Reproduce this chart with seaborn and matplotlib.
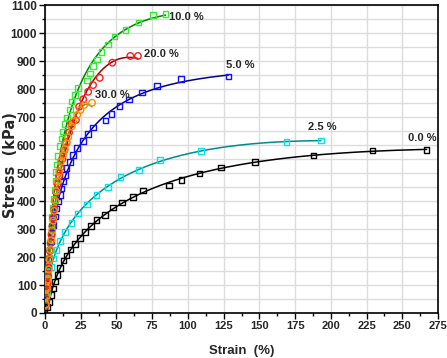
import numpy as np
import pandas as pd
import matplotlib

matplotlib.use("Agg")

import matplotlib.pyplot as plt
import seaborn as sns
from matplotlib.ticker import MultipleLocator

# strain (%) and stress (kPa), one pair per filler content
strain_00 = [1.6, 3.0, 4.6, 5.8, 7.0, 8.6, 10.4, 12.8, 15.1, 17.9, 20.9, 24.4, 27.9, 32.0,
             36.0, 41.8, 47.6, 53.8, 61.5, 68.5, 86.6, 95.6, 108, 123, 147, 188, 229, 267]
stress_00 = [22, 40, 64, 88, 112, 136, 160, 187, 206, 226, 246, 268, 289, 311,
             332, 351, 377, 394, 415, 437, 455, 475, 498, 519, 540, 562, 581, 583]

strain_25 = [1.2, 2.3, 4.0, 5.8, 8.1, 10.4, 13.9, 18.6, 23.2, 29.5, 36.0, 44.0, 52.7,
             65.7, 80.5, 109, 169, 193]
stress_25 = [70, 125, 165, 195, 225, 257, 289, 322, 356, 387, 421, 450, 485,
             511, 546, 579, 611, 616]

strain_50 = [0.5, 1.2, 1.6, 2.3, 3.0, 4.0, 4.6, 5.8, 7.0, 8.1, 9.3, 10.4, 11.6, 12.7, 13.9,
             15.1, 17.4, 19.7, 22.5, 26.7, 30.2, 33.6, 42.3, 46.4, 52.2, 58.7, 68.0, 78.5,
             95.2, 128.3]
stress_50 = [50, 106, 154, 189, 225, 255, 285, 314, 344, 374, 398, 421, 445, 469, 493,
             517, 540, 564, 590, 615, 639, 663, 687, 711, 739, 763, 788, 811, 835, 844]

strain_100 = [0.4, 0.8, 1.2, 1.6, 2.0, 2.4, 2.8, 3.2, 3.6, 4.0, 4.5, 5.0, 5.5, 6.0, 6.6,
              7.2, 7.8, 8.4, 9.2, 10.4, 11.6, 12.7, 13.9, 15.5, 17.4, 18.6, 20.9, 23.2,
              29.5, 31.3, 33.6, 36.4, 39.5, 44.1, 48.7, 56.4, 65.5, 75.4, 84.3]
stress_100 = [28, 56, 84, 112, 140, 168, 196, 224, 252, 280, 312, 344, 376, 408, 440,
              472, 504, 530, 560, 596, 624, 648, 675, 699, 727, 755, 779, 803,
              831, 856, 882, 906, 933, 959, 987, 1011, 1037, 1064, 1068]

strain_200 = [0.4, 0.8, 1.2, 1.6, 2.0, 2.5, 3.0, 3.5, 4.0, 4.6, 5.2, 5.8, 6.5, 7.2, 8.0,
              8.9, 9.9, 11.0, 12.2, 13.5, 15.0, 16.8, 18.6, 21.6, 23.9, 26.7, 30.2, 33.6,
              38.3, 47.1, 59.7, 65.0]
stress_200 = [25, 50, 78, 105, 132, 162, 192, 222, 250, 280, 310, 340, 370, 400, 430,
              460, 490, 520, 550, 580, 610, 645, 675, 689, 737, 763, 790, 814,
              840, 894, 918, 918]

strain_300 = [0.5, 1.0, 1.5, 2.0, 2.6, 3.2, 3.8, 4.4, 5.0, 5.7, 6.4, 7.2, 8.0, 8.9, 9.9,
              11.0, 12.7, 13.9, 15.1, 16.2, 18.6, 19.7, 22.5, 24.8, 27.4, 32.9]
stress_300 = [30, 60, 90, 120, 155, 190, 225, 260, 295, 330, 365, 400, 435, 470, 505,
              540, 564, 585, 606, 627, 666, 683, 707, 725, 743, 751]

labels = ["0.0 %", "2.5 %", "5.0 %", "10.0 %", "20.0 %", "30.0 %"]
label_pos = [(254, 625), (184, 664), (126.7, 886), (87, 1057), (69.6, 925), (34.8, 779)]

series = [
    (strain_00, stress_00, "s", "black", "black"),
    (strain_25, stress_25, "s", "#00e5ee", "#008b8b"),
    (strain_50, stress_50, "s", "#1010ff", "#00008b"),
    (strain_100, stress_100, "s", "#33ee33", "#008000"),
    (strain_200, stress_200, "o", "#ff1a1a", "#a00000"),
    (strain_300, stress_300, "o", "#ff8c00", "#8b8b00"),
]

sns.set_theme(style="whitegrid")
plt.rcParams["font.family"] = ["Liberation Sans Narrow", "Liberation Sans", "DejaVu Sans"]

fig = plt.figure(figsize=(4.47, 3.58), dpi=100)
ax = fig.add_axes([0.1007, 0.1257, 0.8793, 0.8603])

for (x, y, mk, mcol, lcol), lab, pos in zip(series, labels, label_pos):
    df = pd.DataFrame({"strain": x, "stress": y})
    # smooth fit through the read points (cubic in sqrt(strain)), as in the original
    coef = np.polyfit(np.sqrt(df["strain"]), df["stress"], 3)
    xs = np.linspace(0, df["strain"].max(), 300)
    fit = pd.DataFrame({"strain": xs, "stress": np.polyval(coef, np.sqrt(xs))})
    sns.lineplot(data=fit, x="strain", y="stress", color=lcol, lw=1.1, ax=ax)
    sns.scatterplot(data=df, x="strain", y="stress", marker=mk, s=16 if mk == "s" else 22,
                    facecolors="none", edgecolor=mcol, linewidth=1.0, ax=ax, zorder=3)
    ax.text(pos[0], pos[1], lab, fontsize=8, fontweight="bold", va="center", ha="left")

ax.set_xlim(0, 275)
ax.set_ylim(0, 1100)
ax.xaxis.set_major_locator(MultipleLocator(25))
ax.xaxis.set_minor_locator(MultipleLocator(12.5))
ax.yaxis.set_major_locator(MultipleLocator(100))
ax.yaxis.set_minor_locator(MultipleLocator(50))
ax.grid(True, which="major", axis="x", color="#dcdcdc", lw=1)
ax.grid(True, which="both", axis="y", color="#dcdcdc", lw=1)
ax.tick_params(which="major", direction="out", length=4, width=1, color="black",
               labelsize=8.5, pad=2, bottom=True, left=True)
ax.tick_params(axis="x", which="major", labelsize=8)
ax.tick_params(which="minor", direction="out", length=2.5, width=1, color="black",
               bottom=True, left=True)
for lbl in ax.get_xticklabels() + ax.get_yticklabels():
    lbl.set_fontweight("bold")
for sp in ax.spines.values():
    sp.set_color("black")
    sp.set_linewidth(1.2)

ax.set_xlabel("Strain  (%)", fontsize=9.5, fontweight="bold", labelpad=10)
ax.set_ylabel("Stress  (kPa)", fontsize=10.5, fontweight="bold",
              family=["DejaVu Sans"])
ax.yaxis.label.set_va("center")
ax.yaxis.set_label_coords(-0.088, 0.48)

fig.savefig("out.png", dpi=100)
